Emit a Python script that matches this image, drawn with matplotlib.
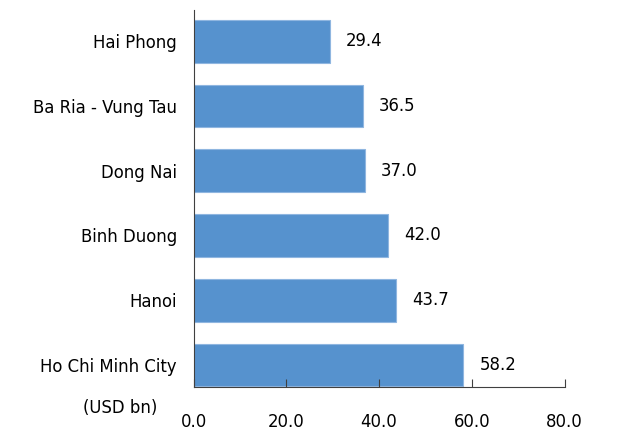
import numpy as np
import matplotlib.pyplot as plt

# Provinces listed bottom-to-top as drawn on the chart
provinces = ["Ho Chi Minh City", "Hanoi", "Binh Duong", "Dong Nai",
             "Ba Ria - Vung Tau", "Hai Phong"]
values = [58.2, 43.7, 42.0, 37.0, 36.5, 29.4]
xticks = [0, 20, 40, 60, 80]

BAR = "#5692CE"
EDGE = "#8FB6E0"
AXIS = "#404040"
FS = 11.9

fig = plt.figure(figsize=(6.36, 4.32), dpi=100)
ax = fig.add_axes([0.3043, 0.1042, 0.5833, 0.8738])

y = np.arange(len(provinces))
ax.barh(y, values, height=0.66, color=BAR, edgecolor=EDGE, linewidth=0.8)

for yi, v in zip(y, values):
    ax.annotate(f"{v:.1f}", (v, yi), xytext=(11.5, 0), textcoords="offset points",
                ha="left", va="center", fontsize=FS, color="black")

ax.set_xlim(0, 80)
ax.set_ylim(-0.34, 5.49)
ax.set_xticks(xticks)
ax.set_xticklabels([f"{t:.1f}" for t in xticks], fontsize=FS)
ax.set_yticks(y)
ax.set_yticklabels(provinces, fontsize=FS)

ax.tick_params(axis="x", direction="in", length=6, width=0.8, color=AXIS, pad=19)
ax.tick_params(axis="y", length=0, pad=12)

for side in ("top", "right"):
    ax.spines[side].set_visible(False)
for side in ("left", "bottom"):
    ax.spines[side].set_color(AXIS)
    ax.spines[side].set_linewidth(0.8)

fig.text(157 / 636, 1 - 408 / 432, "(USD bn)", ha="right", va="center", fontsize=FS)

fig.savefig("out.png", dpi=100)
